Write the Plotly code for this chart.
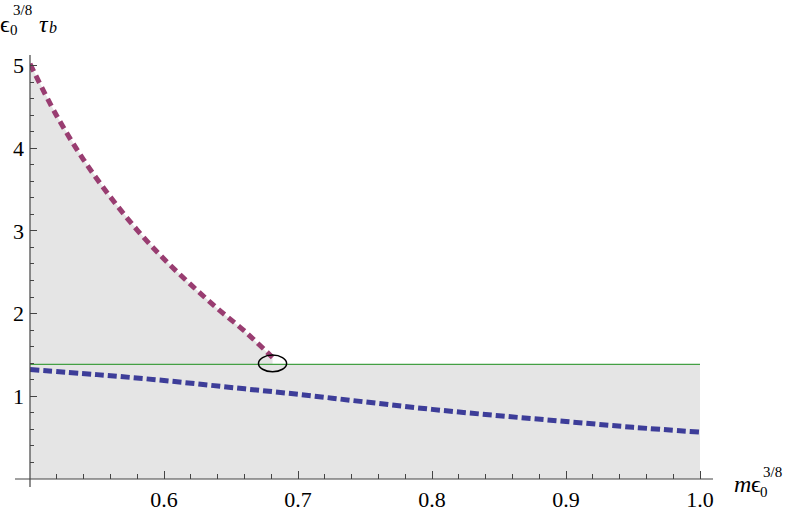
import plotly.graph_objects as go

# ---- data ----
pink_x = [0.50, 0.52, 0.54, 0.56, 0.58, 0.60, 0.62, 0.64, 0.66, 0.681]
pink_y = [5.02, 4.39, 3.86, 3.41, 3.01, 2.66, 2.35, 2.06, 1.79, 1.47]

blue_x = [0.50, 0.55, 0.60, 0.65, 0.70, 0.75, 0.80, 0.85, 0.90, 0.95, 1.00]
blue_y = [1.324, 1.262, 1.191, 1.107, 1.024, 0.932, 0.842, 0.765, 0.695, 0.625, 0.567]

green_level = 1.386
green_x = [0.50, 1.00]

x_tick_vals = [0.6, 0.7, 0.8, 0.9, 1.0]
x_tick_text = ["0.6", "0.7", "0.8", "0.9", "1.0"]
x_minor_vals = [0.52, 0.54, 0.56, 0.58, 0.62, 0.64, 0.66, 0.68, 0.72, 0.74, 0.76, 0.78,
                0.82, 0.84, 0.86, 0.88, 0.92, 0.94, 0.96, 0.98]
y_tick_vals = [1, 2, 3, 4, 5]
y_tick_text = ["1", "2", "3", "4", "5"]
y_minor_vals = [v / 5 for v in range(1, 25) if v % 5 != 0]

# ---- layout geometry ----
W, H = 789, 513
ML, MB = 30, 34
PW, PH = W - ML, H - MB
X0 = 0.5
PX_PER_X = 1340.0
PX_PER_Y = 82.7
X1 = X0 + PW / PX_PER_X
Y0 = 0.0
Y1 = PH / PX_PER_Y


def pxx(px):
    return (px - ML) / PW


def pyy(py):
    return (PH - py) / PH


FONT = "Liberation Serif"
GRAY = "#e5e5e5"
PINK = "#993d71"
BLUE = "#3d3d99"
GREEN = "#44a044"
AXIS = "#444444"

fig = go.Figure()

# shaded region
fill_x = [pink_x[0]] + pink_x + [pink_x[-1], green_x[1], green_x[1], pink_x[0]]
fill_y = [0] + pink_y + [green_level, green_level, 0, 0]
fig.add_trace(go.Scatter(x=fill_x, y=fill_y, mode="lines", fill="toself",
                         fillcolor=GRAY, line=dict(width=0, color=GRAY),
                         hoverinfo="skip", showlegend=False))

# green line
fig.add_trace(go.Scatter(x=green_x, y=[green_level, green_level], mode="lines",
                         line=dict(color=GREEN, width=1.4), showlegend=False))

# blue dashed curve
fig.add_trace(go.Scatter(x=blue_x, y=blue_y, mode="lines", line_shape="spline",
                         line=dict(color=BLUE, width=5, dash="9px,4px"),
                         showlegend=False))

# pink dashed curve
fig.add_trace(go.Scatter(x=pink_x, y=pink_y, mode="lines", line_shape="spline",
                         line=dict(color=PINK, width=5, dash="8px,5px"),
                         showlegend=False))

# ellipse around the meeting point
ex, ey = pink_x[-1], green_level + 0.012
fig.add_shape(type="circle", xref="x", yref="y",
              x0=ex - 0.0105, x1=ex + 0.0105, y0=ey - 0.1, y1=ey + 0.1,
              line=dict(color="black", width=1.5))

# axis lines (Mathematica style, slightly overshooting)
fig.add_shape(type="line", xref="paper", yref="paper",
              x0=pxx(15), x1=pxx(713), y0=0, y1=0,
              line=dict(color=AXIS, width=1.2), layer="above")
fig.add_shape(type="line", xref="paper", yref="paper",
              x0=0, x1=0, y0=pyy(487), y1=pyy(55),
              line=dict(color=AXIS, width=1.2), layer="above")

# axis labels
ann = []
def t(text, px, py, size, italic=False):
    if italic:
        text = "<i>" + text + "</i>"
    ann.append(dict(text=text, x=pxx(px), y=pyy(py), xref="paper", yref="paper",
                    xanchor="center", yanchor="middle", showarrow=False,
                    font=dict(family=FONT, size=size, color="black")))

# y label: eps_0^{3/8} tau_b
t("ϵ", 5.5, 24, 24)
t("0", 13.5, 30, 15)
t("3/8", 22, 10, 15)
t("τ", 44, 24, 24, italic=True)
t("b", 52.5, 28, 16, italic=True)
# x label: m eps_0^{3/8}
t("m", 742, 484, 24, italic=True)
t("ϵ", 756, 484, 24)
t("0", 764, 492, 15)
t("3/8", 772, 472, 15)

fig.update_layout(
    width=W, height=H,
    margin=dict(l=ML, r=0, t=0, b=MB),
    paper_bgcolor="white", plot_bgcolor="white",
    annotations=ann,
    xaxis=dict(range=[X0, X1], showgrid=False, zeroline=False, showline=False,
               automargin=False,
               tickmode="array", tickvals=x_tick_vals, ticktext=x_tick_text,
               ticks="inside", ticklen=8, tickwidth=1, tickcolor=AXIS,
               ticklabelstandoff=5,
               tickfont=dict(family=FONT, size=22, color="black"),
               minor=dict(tickmode="array", tickvals=x_minor_vals, ticks="inside",
                          ticklen=5, tickwidth=1, tickcolor=AXIS, showgrid=False)),
    yaxis=dict(range=[Y0, Y1], showgrid=False, zeroline=False, showline=False,
               automargin=False,
               tickmode="array", tickvals=y_tick_vals, ticktext=y_tick_text,
               ticks="inside", ticklen=7, tickwidth=1, tickcolor=AXIS,
               ticklabelstandoff=5,
               tickfont=dict(family=FONT, size=22, color="black"),
               minor=dict(tickmode="array", tickvals=y_minor_vals, ticks="inside",
                          ticklen=4, tickwidth=1, tickcolor=AXIS, showgrid=False)),
)

fig.write_html("out.html", post_script="document.body.style.margin='0';",
               config={"displayModeBar": False})
